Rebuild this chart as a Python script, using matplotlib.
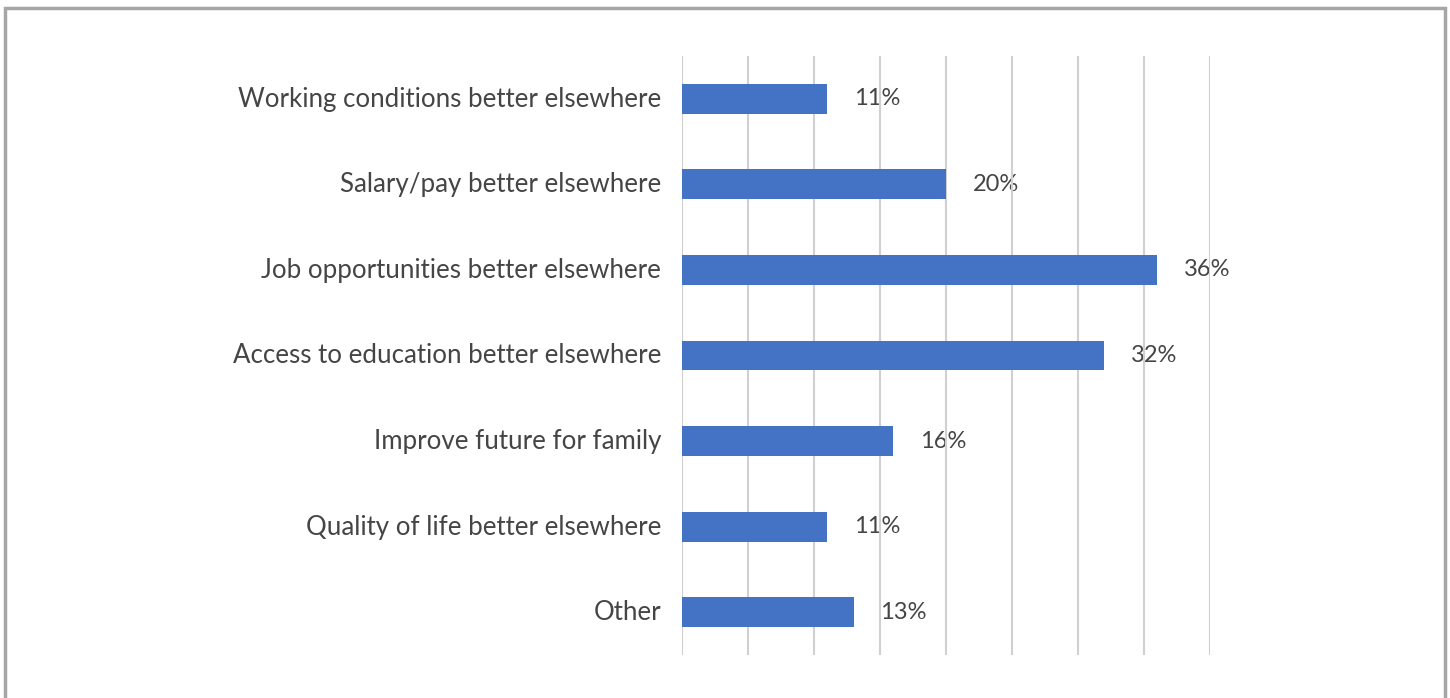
import matplotlib.pyplot as plt
from matplotlib.patches import Rectangle
from matplotlib.transforms import ScaledTranslation

categories = [
    "Working conditions better elsewhere",
    "Salary/pay better elsewhere",
    "Job opportunities better elsewhere",
    "Access to education better elsewhere",
    "Improve future for family",
    "Quality of life better elsewhere",
    "Other",
]
values = [11, 20, 36, 32, 16, 11, 13]
x_ticks = [0, 5, 10, 15, 20, 25, 30, 35, 40]

BAR = "#4472c4"
TEXT = "#454545"
GRID = "#d0d0d0"

plt.rcParams["font.family"] = ["Lato", "DejaVu Sans"]

fig = plt.figure(figsize=(14.5, 6.98), dpi=100)
ax = fig.add_axes([682 / 1450, 1 - 655 / 698, (1210 - 682) / 1450, (655 - 56) / 698])

y = list(range(len(categories)))
ax.barh(y, values, height=0.35, color=BAR, zorder=2)
ax.set_ylim(len(categories) - 0.5, -0.5)
ax.set_xlim(0, 40)

# value labels sit under the gridlines
for yi, v in zip(y, values):
    ax.annotate(f"{v}%", xy=(v, yi), xytext=(19, 0), textcoords="offset points",
                ha="left", va="center", fontsize=17, color=TEXT, zorder=0.5)

ax.set_xticks(x_ticks)
ax.grid(axis="x", color=GRID, lw=1.5, zorder=1)
ax.tick_params(axis="x", length=0, labelbottom=False)
ax.set_yticks(y)
ax.set_yticklabels(categories, fontsize=18.6, color=TEXT)
ax.tick_params(axis="y", length=0, pad=15)
nudge = ScaledTranslation(0, 1.5 / 72, fig.dpi_scale_trans)
for lbl in ax.get_yticklabels():
    lbl.set_transform(lbl.get_transform() + nudge)
for s in ax.spines.values():
    s.set_visible(False)

# outer frame, open at the bottom edge
fig.patches.append(Rectangle((5 / 1450, -0.05), 1440 / 1450, 1.05 - 8 / 698,
                             transform=fig.transFigure, fill=False,
                             edgecolor="#a6a6a6", lw=2.5))

fig.savefig("out.png", dpi=100)
